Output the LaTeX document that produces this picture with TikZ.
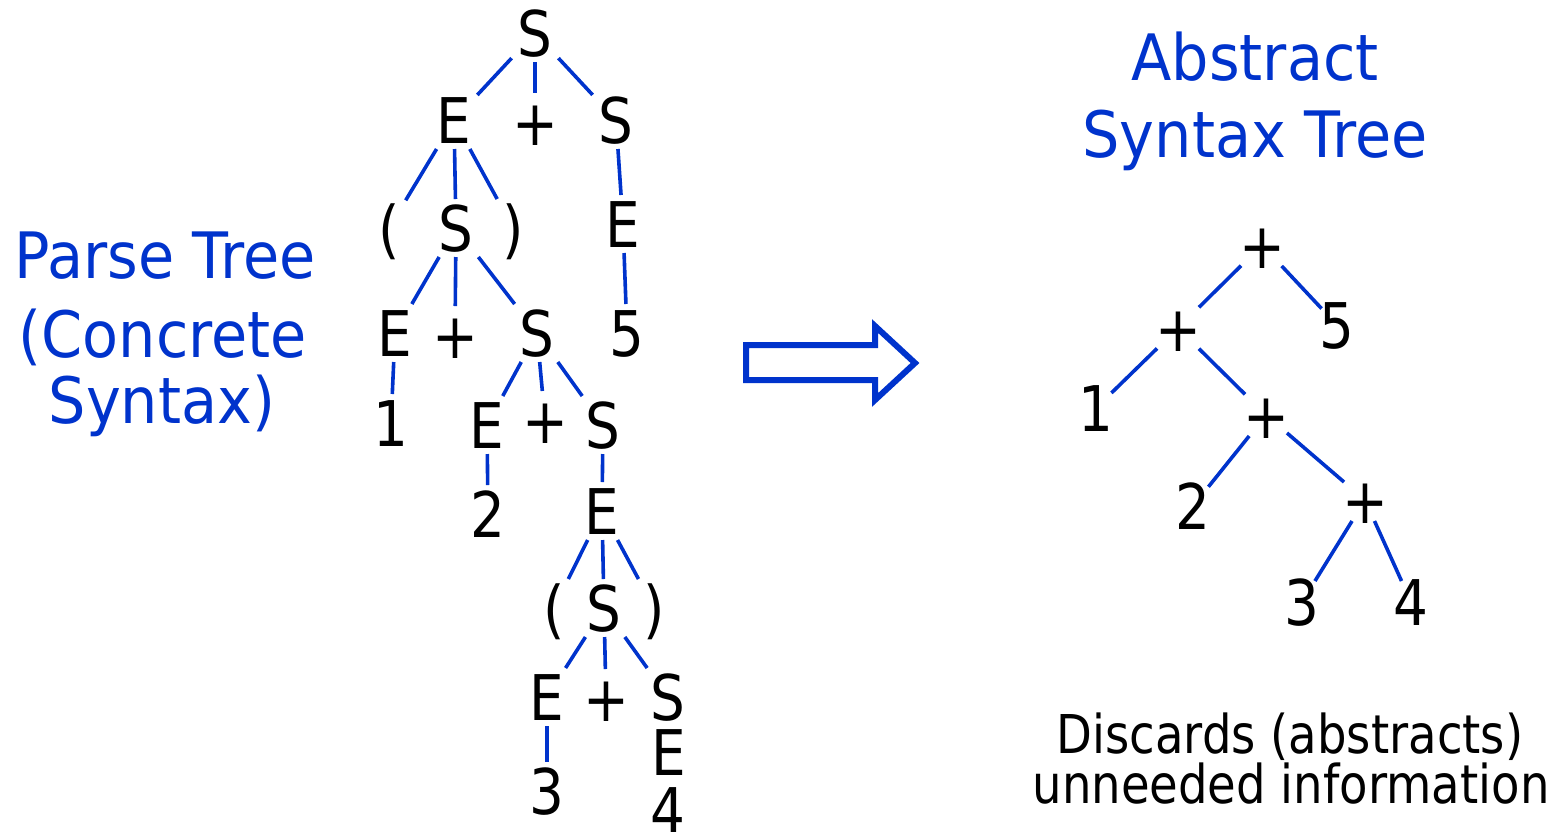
\documentclass[tikz,border=0pt]{standalone}
\usepackage{fontspec}
\setmainfont[FakeStretch=0.87]{DejaVu Sans}
\newfontfamily\ttlfont[FakeStretch=0.92]{DejaVu Sans}
\definecolor{tblue}{RGB}{0,51,204}
\begin{document}
\begin{tikzpicture}[x=1pt,y=-1pt,
  sym/.style={inner sep=0pt, outer sep=6pt, text height=46pt, text depth=0pt,
              font=\fontsize{63}{75}\selectfont},
  ast/.style={sym, outer sep=-2pt},
  edge/.style={draw=tblue, line width=3.6pt},
  ttl/.style={anchor=base, inner sep=0pt, text=tblue, font=\ttlfont\fontsize{64}{76}\selectfont},
  note/.style={anchor=base, inner sep=0pt, text=black, font=\fontsize{53.5}{64}\selectfont},
  bigarrow/.style={draw=tblue, line width=6pt, line join=miter}
]
\useasboundingbox (0,0) rectangle (1554,831);

% Titles
\node[ttl] (pt1) at (165,278) {Parse Tree};
\node[ttl] (pt2) at (163,357) {(Concrete};
\node[ttl] (pt3) at (162,423) {Syntax)};
\node[ttl] (at1) at (1255,80) {Abstract};
\node[ttl] (at2) at (1255,157) {Syntax Tree};
\node[note] (n1) at (1290,753) {Discards (abstracts)};
\node[note] (n2) at (1291,803) {unneeded information};

% Parse tree
\node[sym] (S0) at (535,33) {S};
\node[sym] (E1) at (454,120) {E};
\node[sym] (P1) at (535,122) {+};
\node[sym] (S1) at (616,120) {S};
\node[sym] (L1) at (389,228) {(};
\node[sym] (S2) at (456,228) {S};
\node[sym] (R1) at (513,228) {)};
\node[sym] (E2) at (623,224) {E};
\node[sym] (E3) at (395,333) {E};
\node[sym] (P2) at (455,335) {+};
\node[sym] (S3) at (537,333) {S};
\node[sym] (N5) at (627,333) {5};
\node[sym] (N1) at (391,423) {1};
\node[sym] (E4) at (487,425) {E};
\node[sym] (P3) at (545,420) {+};
\node[sym] (S4) at (603,425) {S};
\node[sym] (N2) at (488,514) {2};
\node[sym] (E5) at (602,511) {E};
\node[sym] (L2) at (554,608) {(};
\node[sym] (S5) at (604,608) {S};
\node[sym] (R2) at (654,608) {)};
\node[sym] (E6) at (547,697) {E};
\node[sym] (P4) at (606,698) {+};
\node[sym] (S6) at (668,697) {S};
\node[sym] (N3) at (547,791) {3};
\node[sym] (E7) at (669,752) {E};
\node[sym] (N4) at (668,810) {4};

\draw[edge] (S0) -- (E1);
\draw[edge] (S0) -- (P1);
\draw[edge] (S0) -- (S1);
\draw[edge] (E1) -- (L1);
\draw[edge] (E1) -- (S2);
\draw[edge] (E1) -- (R1);
\draw[edge] (S1) -- (E2);
\draw[edge] (S2) -- (E3);
\draw[edge] (S2) -- (P2);
\draw[edge] (S2) -- (S3);
\draw[edge] (E2) -- (N5);
\draw[edge] (E3) -- (N1);
\draw[edge] (S3) -- (E4);
\draw[edge] (S3) -- (P3);
\draw[edge] (S3) -- (S4);
\draw[edge] (E4) -- (N2);
\draw[edge] (S4) -- (E5);
\draw[edge] (E5) -- (L2);
\draw[edge] (E5) -- (S5);
\draw[edge] (E5) -- (R2);
\draw[edge] (S5) -- (E6);
\draw[edge] (S5) -- (P4);
\draw[edge] (S5) -- (S6);
\draw[edge] (E6) -- (N3);

% Arrow
\draw[bigarrow] (746,345) -- (875,345) -- (875,326) -- (915,363) -- (875,400) -- (875,380) -- (746,380) -- cycle;

% Abstract syntax tree
\node[ast] (A0) at (1262,245) {+};
\node[ast] (A1) at (1178,328) {+};
\node[ast] (A5) at (1337,325) {5};
\node[ast] (A1n) at (1096,408) {1};
\node[ast] (A2) at (1266,415) {+};
\node[ast] (A2n) at (1193,506) {2};
\node[ast] (A3) at (1365,500) {+};
\node[ast] (A3n) at (1302,602) {3};
\node[ast] (A4n) at (1411,602) {4};

\draw[edge] (A0) -- (A1);
\draw[edge] (A0) -- (A5);
\draw[edge] (A1) -- (A1n);
\draw[edge] (A1) -- (A2);
\draw[edge] (A2) -- (A2n);
\draw[edge] (A2) -- (A3);
\draw[edge] (A3) -- (A3n);
\draw[edge] (A3) -- (A4n);
\end{tikzpicture}
\end{document}
